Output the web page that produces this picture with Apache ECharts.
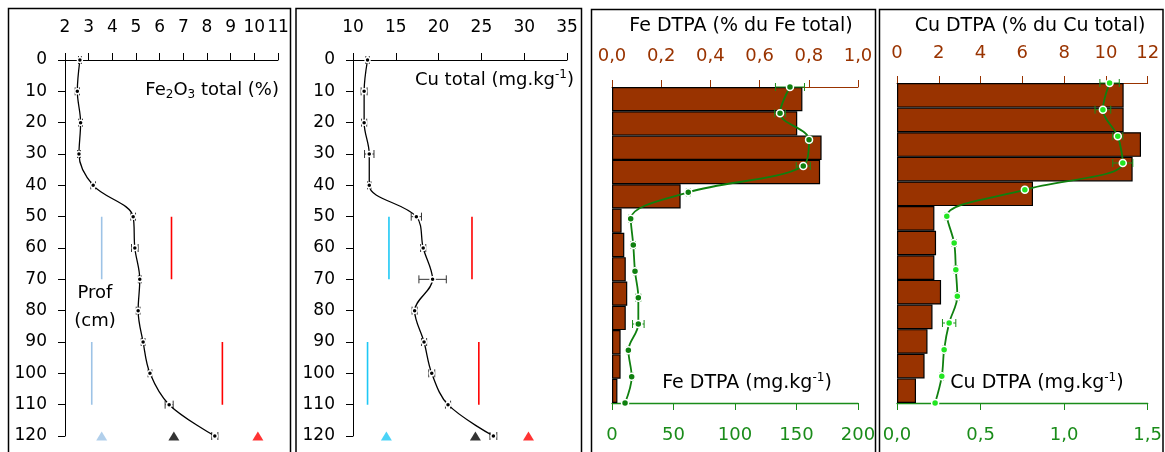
<!DOCTYPE html>
<html>
<head>
<meta charset="utf-8">
<title>Profils Fe et Cu</title>
<script src="https://cdn.jsdelivr.net/npm/echarts@6/dist/echarts.min.js"></script>
<style>
html, body { margin: 0; padding: 0; background: #fff; }
#main { width: 1165px; height: 452px; }
</style>
</head>
<body>
<div id="main"></div>
<script type="text/javascript">
// profondeur (cm)
var depths = [0, 10, 20, 30, 40, 50, 60, 70, 80, 90, 100, 110, 120];

// Fe2O3 total (%)
var fe2o3 = [2.63, 2.52, 2.66, 2.59, 3.19, 4.88, 4.95, 5.16, 5.09, 5.30, 5.59, 6.40, 8.33];
var fe2o3Err = [0.06, 0.09, 0.08, 0.06, 0.10, 0.10, 0.14, 0.06, 0.08, 0.08, 0.08, 0.17, 0.13];

// Cu total (mg/kg)
var cuTot = [11.7, 11.3, 11.3, 11.9, 11.9, 17.4, 18.2, 19.3, 17.2, 18.3, 19.2, 21.1, 26.4];
var cuTotErr = [0.2, 0.35, 0.3, 0.55, 0.2, 0.6, 0.3, 1.6, 0.3, 0.3, 0.35, 0.3, 0.4];

// horizons de référence (cm) et valeurs de référence
var refDepths = [[50, 70], [90, 110]];
var fe2o3RefLow = [3.55, 3.13];
var fe2o3RefHigh = [6.5, 8.65];
var fe2o3Marks = [3.55, 6.6, 10.15];
var cuRefLow = [14.2, 11.7];
var cuRefHigh = [23.9, 24.7];
var cuMarks = [13.9, 24.3, 30.5];

// Fe DTPA
var feDtpaPct = [0.774, 0.753, 0.852, 0.846, 0.279, 0.039, 0.050, 0.056, 0.062, 0.056, 0.035, 0.035, 0.022];
var feDtpa = [144.7, 136.6, 160.2, 155.5, 62.0, 15.2, 17.3, 18.7, 21.4, 21.4, 13.3, 16.0, 10.6];
var feDtpaErr = [11.8, 4.3, 2.5, 5.7, 1.5, 1.5, 1.8, 1.0, 2.0, 4.7, 1.0, 1.0, 0.5];

// Cu DTPA
var cuDtpaPct = [10.85, 10.85, 11.68, 11.28, 6.51, 1.79, 1.87, 1.79, 2.11, 1.70, 1.46, 1.32, 0.91];
var cuDtpa = [1.272, 1.232, 1.321, 1.351, 0.765, 0.298, 0.342, 0.352, 0.361, 0.312, 0.282, 0.268, 0.228];
var cuDtpaErr = [0.058, 0.047, 0.03, 0.06, 0.015, 0.01, 0.012, 0.01, 0.012, 0.04, 0.008, 0.01, 0.005];

var FONT = 'DejaVu Sans';
var BROWN = '#993300';
var GREEN = '#1a8c1a';

function comma(d) {
    return function (v) { return v.toFixed(d).replace('.', ','); };
}

function pairs(xs) {
    return xs.map(function (x, i) { return [x, depths[i]]; });
}

function profileLine(xi, values, lineColor, dotColor, size, width) {
    return {
        type: 'line', xAxisIndex: xi, yAxisIndex: xi, z: 4,
        data: pairs(values),
        smooth: 0.35,
        symbol: 'circle', symbolSize: size,
        lineStyle: { color: lineColor, width: width },
        itemStyle: { color: dotColor, borderColor: '#fff', borderWidth: 1.5 }
    };
}

function errorBars(xi, yi, means, errs, color) {
    return {
        type: 'custom', xAxisIndex: xi, yAxisIndex: yi, z: 3,
        data: means.map(function (m, i) { return [m - errs[i], m + errs[i], depths[i]]; }),
        encode: { x: [0, 1], y: 2 },
        renderItem: function (params, api) {
            var a = api.coord([api.value(0), api.value(2)]);
            var b = api.coord([api.value(1), api.value(2)]);
            var h = 4;
            var st = { stroke: color, lineWidth: 1 };
            return {
                type: 'group', children: [
                    { type: 'line', shape: { x1: a[0], y1: a[1], x2: b[0], y2: b[1] }, style: st },
                    { type: 'line', shape: { x1: a[0], y1: a[1] - h, x2: a[0], y2: a[1] + h }, style: st },
                    { type: 'line', shape: { x1: b[0], y1: b[1] - h, x2: b[0], y2: b[1] + h }, style: st }
                ]
            };
        }
    };
}

function refLines(xi, xs, color) {
    return xs.map(function (x, i) {
        return {
            type: 'line', xAxisIndex: xi, yAxisIndex: xi, z: 2,
            data: [[x, refDepths[i][0]], [x, refDepths[i][1]]],
            symbol: 'none', silent: true,
            lineStyle: { color: color, width: 1.6 }
        };
    });
}

function triangles(xi, xs, colors) {
    return {
        type: 'scatter', xAxisIndex: xi, yAxisIndex: xi, z: 5,
        symbol: 'triangle', symbolSize: [11, 9],
        data: xs.map(function (x, i) {
            return { value: [x, 120], itemStyle: { color: colors[i] } };
        })
    };
}

function topAxis(grid, min, max, step, color, fmt, size, margin) {
    return {
        type: 'value', gridIndex: grid, position: 'top', min: min, max: max, interval: step,
        axisLine: { onZero: false, lineStyle: { color: color, width: 1 } },
        axisTick: { length: 7, lineStyle: { color: color } },
        axisLabel: { color: color, fontFamily: FONT, fontSize: size, margin: margin, formatter: fmt },
        splitLine: { show: false }
    };
}

function bottomAxis(grid, min, max, step, fmt) {
    return {
        type: 'value', gridIndex: grid, position: 'bottom', min: min, max: max, interval: step,
        axisLine: { onZero: false, lineStyle: { color: GREEN, width: 1.3 } },
        axisTick: { length: 7, lineStyle: { color: GREEN } },
        axisLabel: { color: GREEN, fontFamily: FONT, fontSize: 18, margin: 23, formatter: fmt },
        splitLine: { show: false }
    };
}

function depthAxis(grid) {
    return {
        type: 'value', gridIndex: grid, inverse: true, min: 0, max: 120, interval: 10,
        axisLine: { onZero: false, lineStyle: { color: '#000' } },
        axisTick: { length: 7, lineStyle: { color: '#000' } },
        axisLabel: { color: '#000', fontFamily: FONT, fontSize: 17, margin: 18 },
        splitLine: { show: false }
    };
}

function hiddenDepth(grid) {
    return { type: 'value', gridIndex: grid, inverse: true, min: 0, max: 120, show: false, splitLine: { show: false } };
}

function hiddenCats(grid) {
    return { type: 'category', gridIndex: grid, inverse: true, data: depths.map(String), show: false };
}

function box(x, y, w, h) {
    return { type: 'rect', shape: { x: x, y: y, width: w, height: h }, style: { fill: 'none', stroke: '#000', lineWidth: 1.5 }, silent: true };
}

function label(x, y, text, color, align, size) {
    return {
        type: 'text', x: x, y: y, silent: true,
        style: {
            text: text, align: align, verticalAlign: 'middle',
            rich: {
                a: { fontFamily: FONT, fontSize: size, color: color, lineHeight: 22 },
                s: { fontFamily: FONT, fontSize: 12, color: color, lineHeight: 12, verticalAlign: 'bottom' },
                p: { fontFamily: FONT, fontSize: 12, color: color, lineHeight: 12, verticalAlign: 'top' }
            }
        }
    };
}

var myChart = echarts.init(document.getElementById('main'));

var series = [];
series.push(profileLine(0, fe2o3, '#000', '#000', 5, 1.3));
series.push(errorBars(0, 0, fe2o3, fe2o3Err, '#333'));
series = series.concat(refLines(0, fe2o3RefLow, '#9dc3e6'), refLines(0, fe2o3RefHigh, '#ff0000'));
series.push(triangles(0, fe2o3Marks, ['#9dc3e6', '#000', '#ff0000']));

series.push(profileLine(1, cuTot, '#000', '#000', 5, 1.3));
series.push(errorBars(1, 1, cuTot, cuTotErr, '#333'));
series = series.concat(refLines(1, cuRefLow, '#1ec8f5'), refLines(1, cuRefHigh, '#ff0000'));
series.push(triangles(1, cuMarks, ['#1ec8f5', '#000', '#ff0000']));

series.push({
    type: 'bar', xAxisIndex: 2, yAxisIndex: 2, z: 1,
    data: feDtpaPct, barCategoryGap: '0%',
    itemStyle: { color: BROWN, borderColor: '#000', borderWidth: 1.2 }
});
series.push(profileLine(3, feDtpa, '#0f800f', '#0f800f', 7, 1.8));
series.push(errorBars(3, 3, feDtpa, feDtpaErr, GREEN));

series.push({
    type: 'bar', xAxisIndex: 4, yAxisIndex: 4, z: 1,
    data: cuDtpaPct, barCategoryGap: '0%',
    itemStyle: { color: BROWN, borderColor: '#000', borderWidth: 1.2 }
});
series.push(profileLine(5, cuDtpa, '#0f800f', '#22e622', 7, 1.8));
series.push(errorBars(5, 5, cuDtpa, cuDtpaErr, GREEN));

var option = {
    animation: false,
    grid: [
        { left: 65, top: 60, width: 213, height: 376 },
        { left: 353, top: 60, width: 214, height: 376 },
        { left: 612, top: 87, width: 246, height: 316 },
        { left: 897, top: 83, width: 251, height: 320 }
    ],
    xAxis: [
        topAxis(0, 2, 11, 1, '#000', null, 17, 24),
        topAxis(1, 10, 35, 5, '#000', null, 17, 24),
        topAxis(2, 0, 1, 0.2, BROWN, comma(1), 18, 22),
        bottomAxis(2, 0, 200, 50, null),
        topAxis(3, 0, 12, 2, BROWN, null, 18, 21),
        bottomAxis(3, 0, 1.5, 0.5, comma(1))
    ],
    yAxis: [
        depthAxis(0),
        depthAxis(1),
        hiddenCats(2),
        hiddenDepth(2),
        hiddenCats(3),
        hiddenDepth(3)
    ],
    graphic: [
        box(8.5, 8.5, 282, 460),
        box(296, 8.5, 285.5, 460),
        box(591.5, 9.5, 284, 460),
        box(879.5, 9.5, 283.5, 460),
        label(279, 90, '{a|Fe}{s|2}{a|O}{s|3}{a| total (%)}', '#000', 'right', 18),
        label(574, 80, '{a|Cu total (mg.kg}{p|-1}{a|)}', '#000', 'right', 18),
        label(95, 293, '{a|Prof}', '#000', 'center', 18),
        label(95, 321, '{a|(cm)}', '#000', 'center', 18),
        label(741, 26, '{a|Fe DTPA (% du Fe total)}', BROWN, 'center', 19),
        label(1030, 26, '{a|Cu DTPA (% du Cu total)}', BROWN, 'center', 19),
        label(747, 383, '{a|Fe DTPA (mg.kg}{p|-1}{a|)}', GREEN, 'center', 19),
        label(1037, 383, '{a|Cu DTPA (mg.kg}{p|-1}{a|)}', GREEN, 'center', 19)
    ],
    series: series
};
myChart.setOption(option);
</script>
</body>
</html>
